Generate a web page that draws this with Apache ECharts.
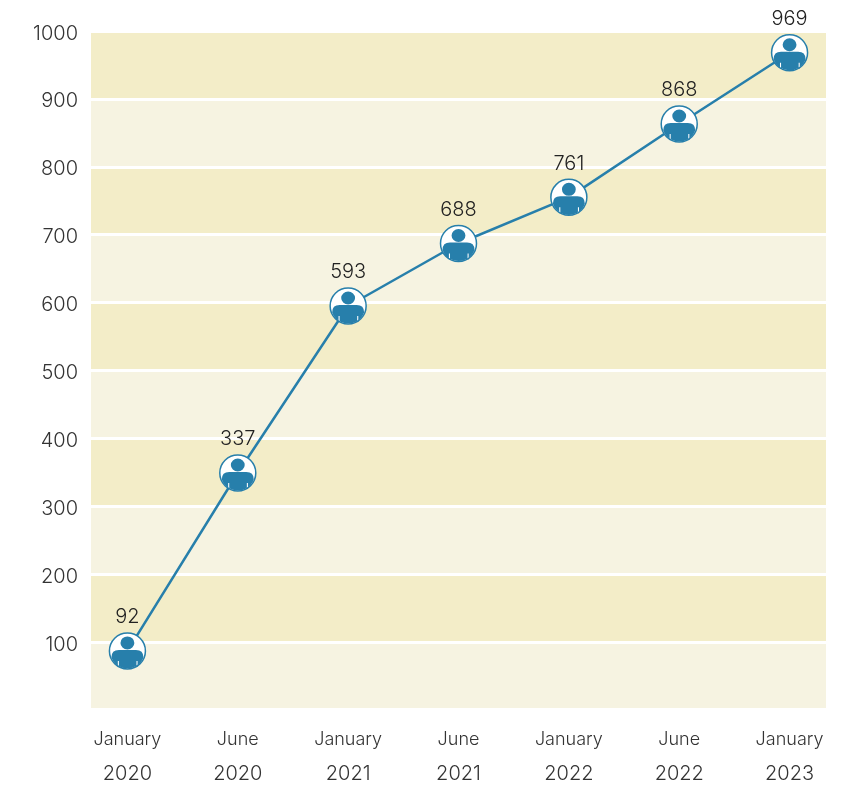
<!DOCTYPE html>
<html>
<head>
<meta charset="utf-8">
<title>Chart</title>
<style>
  html, body { margin: 0; padding: 0; background: #fff; }
  #chart { width: 849px; height: 785px; }
</style>
<script src="https://cdn.jsdelivr.net/npm/echarts@6/dist/echarts.min.js"></script>
</head>
<body>
<div id="chart"></div>
<script>
  // x axis text
  const months = ['January', 'June', 'January', 'June', 'January', 'June', 'January']
  const years = ['2020', '2020', '2021', '2021', '2022', '2022', '2023']
  // numbers printed over the points
  const printedValues = [92, 337, 593, 688, 761, 868, 969]
  // heights the points actually sit at on the axis (they differ a bit from the printed numbers)
  const plottedValues = [87, 349, 595, 687, 755, 863, 968]
  const positions = [0, 1, 2, 3, 4, 5, 6]

  const BLUE = '#277fab'
  const FONT = 'Inter'
  // person icon, head and shoulders with two arm slits
  const PERSON = 'path://M16,0A6.5,6.5 0 1 1 15.99,0Z' +
    'M1,21Q1,13.5 8,13.5H24Q31,13.5 31,21A15.7,15.7 0 0 1 1,21Z' +
    'M7,24.5V30.5H8V24.5ZM24.5,24.5V30.5H25.5V24.5Z'

  const pointData = positions.map(function (p, i) { return [p, plottedValues[i]] })

  const chart = echarts.init(document.getElementById('chart'))
  chart.setOption({
    animation: false,
    grid: { left: 91, right: 23, top: 31, bottom: 75, outerBoundsMode: 'none' },
    xAxis: {
      type: 'value',
      min: -0.33,
      max: 6.33,
      splitLine: { show: false },
      axisTick: { show: false },
      axisLine: { show: true, onZero: false, lineStyle: { color: '#fff', width: 4 } },
      axisLabel: {
        customValues: positions,
        formatter: function (v) { return '{m|' + months[v] + '}\n{y|' + years[v] + '}' },
        margin: 13,
        rich: {
          m: { fontFamily: FONT, fontSize: 18, fontWeight: 300, lineHeight: 34, color: '#333' },
          y: { fontFamily: FONT, fontSize: 20, fontWeight: 300, lineHeight: 33, color: '#333' }
        }
      }
    },
    yAxis: {
      type: 'value',
      min: 0,
      max: 1000,
      interval: 100,
      axisLine: { show: false },
      axisTick: { show: false },
      axisLabel: {
        formatter: function (v) { return v === 0 ? '' : '{n|' + v + '}' },
        margin: 13,
        rich: {
          n: { fontFamily: FONT, fontSize: 20, fontWeight: 300, color: '#333', padding: [5, 0, 0, 0] }
        }
      },
      splitLine: { show: true, lineStyle: { color: '#fff', width: 3 } },
      splitArea: { show: true, areaStyle: { color: ['#f6f3e1', '#f3edc8'] } }
    },
    series: [
      {
        type: 'line',
        data: pointData,
        clip: false,
        symbol: 'circle',
        symbolSize: 36,
        showAllSymbol: true,
        lineStyle: { color: BLUE, width: 2.5 },
        itemStyle: { color: '#fff', borderColor: BLUE, borderWidth: 1.5 },
        label: {
          show: true,
          position: 'top',
          distance: 5,
          fontFamily: FONT,
          fontSize: 20,
          fontWeight: 300,
          color: '#222',
          formatter: function (p) { return printedValues[p.dataIndex] }
        }
      },
      {
        type: 'scatter',
        data: pointData,
        clip: false,
        z: 5,
        symbol: PERSON,
        symbolSize: [32, 32],
        symbolOffset: [0, 1.5],
        itemStyle: { color: BLUE, opacity: 1 }
      }
    ]
  })
</script>
</body>
</html>
